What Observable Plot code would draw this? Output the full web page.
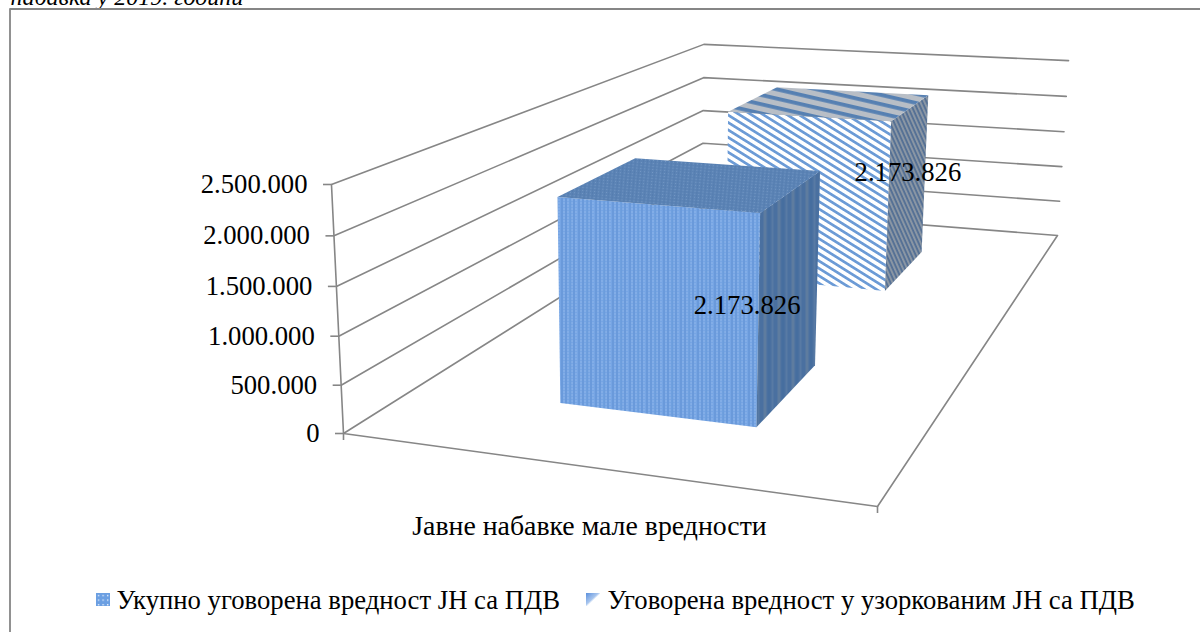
<!DOCTYPE html>
<html>
<head>
<meta charset="utf-8">
<script src="https://cdn.jsdelivr.net/npm/d3@7"></script>
<script src="https://cdn.jsdelivr.net/npm/@observablehq/plot@0.6"></script>
<style>
html,body{margin:0;padding:0;background:#fff;overflow:hidden}
svg{display:block}
</style>
</head>
<body>
<div id="chart"></div>
<script>
// ---- data ----
const caption = "набавка у 2019. години";
const categories = ["Јавне набавке мале вредности"];
const seriesNames = ["Укупно уговорена вредност ЈН са ПДВ", "Уговорена вредност у узоркованим ЈН са ПДВ"];
const seriesValues = [2173826, 2173826];
const valueLabels = ["2.173.826", "2.173.826"];
const yTicks = [0, 500000, 1000000, 1500000, 2000000, 2500000];
const yTickLabels = ["0", "500.000", "1.000.000", "1.500.000", "2.000.000", "2.500.000"];
const yMax = 2500000;

// ---- 3D camera: (u along category, w along depth, v = value / max) -> picture ----
const cam = {a:439.04,b:751.5,p:-24.6,c:343, d:18.21,e:-110.26,q:-256,f:433, g:-0.10828,h:0.55914,r:-0.038};
function P(u, w, v) {
  const n = cam.g*u + cam.h*w + cam.r*v + 1;
  return {x:(cam.a*u + cam.b*w + cam.p*v + cam.c)/n, y:(cam.d*u + cam.e*w + cam.q*v + cam.f)/n};
}
const barU = [0.305, 0.70];                 // gap width of the category band
const barW = [[0.147, 0.346], [0.65, 0.85]]; // depth band of each series
const labelAt = [[0.615, 0.247, 0.37], [0.70, 0.75, 0.53]];

const GRID = "#868686", FONT = "'Liberation Serif','Times New Roman',serif", FS = 26.7;
const poly = pts => pts.map(p => P(...p));
const line = (pts, o = {}) => Plot.line(pts, {x:"x", y:"y", stroke:GRID, strokeWidth:1.6, curve:"linear", ...o});
const face = (pts, fill) => Plot.line(poly(pts), {x:"x", y:"y", fill, stroke:"none", curve:"linear"});

// ---- walls ----
const gridMarks = yTicks.slice(1).map(t => {
  const v = t / yMax;
  return line(poly([[0,0,v],[0,1,v],[1,1,v]]));
});
const floorMark = line(poly([[0,0,0],[1,0,0],[1,1,0],[0,1,0],[0,0,0]]));
const axisMark = line(poly([[0,0,0],[0,0,1]]));
const yTickData = yTicks.map((t,i) => ({...P(0,0,t/yMax), label:yTickLabels[i]}));

// ---- bars ----
function barMarks(i, fills) {
  const v = seriesValues[i] / yMax, [u0,u1] = barU, [w0,w1] = barW[i];
  return [
    face([[u0,w0,0],[u1,w0,0],[u1,w0,v],[u0,w0,v]], fills[0]),
    face([[u1,w0,0],[u1,w1,0],[u1,w1,v],[u1,w0,v]], fills[1]),
    face([[u0,w0,v],[u1,w0,v],[u1,w1,v],[u0,w1,v]], fills[2])
  ];
}

// ---- patterns ----
const defs = () => d3.create("svg:defs").html(`
<pattern id="pf" width="17" height="3" patternUnits="userSpaceOnUse">
  <rect width="17" height="3" fill="#76a5e4"/>
  <rect x="0" width="1" height="3" fill="#5d8fd2"/><rect x="4" width="1" height="3" fill="#5d8fd2"/>
  <rect x="8" width="1.5" height="3" fill="#689ada"/><rect x="12" width="1" height="3" fill="#5d8fd2"/>
  <rect x="2" y="1" width="1" height="1" fill="#a4c4ee"/><rect x="6" y="1" width="1" height="1" fill="#a4c4ee"/>
  <rect x="10" y="1" width="1" height="1" fill="#a4c4ee"/><rect x="14" y="1" width="1" height="1" fill="#a4c4ee"/>
</pattern>
<pattern id="pft" width="4" height="3" patternUnits="userSpaceOnUse" patternTransform="rotate(5)">
  <rect width="4" height="3" fill="#5b83b5"/><rect width="1" height="1" fill="#7498c4"/><rect x="2" y="1.5" width="1" height="1" fill="#4e77aa"/>
</pattern>
<pattern id="pfs" width="14" height="4" patternUnits="userSpaceOnUse">
  <rect width="14" height="4" fill="#4a70a0"/><rect x="1" width="2" height="4" fill="#587aa4"/>
  <rect x="7" width="3" height="4" fill="#5e7c9f"/><rect x="12" width="1" height="4" fill="#436b9e"/>
</pattern>
<pattern id="pr" width="6.3" height="6.3" patternUnits="userSpaceOnUse" patternTransform="rotate(32)">
  <rect width="6.3" height="6.3" fill="#ffffff"/><rect width="6.3" height="2.7" fill="#6c9bd6"/>
</pattern>
<pattern id="prt" width="9" height="9" patternUnits="userSpaceOnUse" patternTransform="rotate(13)">
  <rect width="9" height="9" fill="#b8bec6"/><rect width="9" height="3.8" fill="#5680b2"/>
</pattern>
<pattern id="prs" width="3.8" height="3.8" patternUnits="userSpaceOnUse" patternTransform="rotate(66)">
  <rect width="3.8" height="3.8" fill="#8a96a4"/><rect width="3.8" height="1.8" fill="#536f94"/>
</pattern>
<pattern id="lg1" width="4.6" height="4.6" patternUnits="userSpaceOnUse" x="96" y="593">
  <rect width="4.6" height="4.6" fill="#6b9fe2"/><rect x="1.8" y="1.8" width="1.4" height="1.4" fill="#dfeafa"/>
</pattern>
<linearGradient id="lg2" x1="0" y1="0" x2="1" y2="1">
  <stop offset="0" stop-color="#5a8fdc"/><stop offset="0.45" stop-color="#a9c6ee"/><stop offset="0.55" stop-color="#fff"/><stop offset="1" stop-color="#fff"/>
</linearGradient>
`).node();

const textOpts = {fontFamily:FONT, fontSize:FS, fill:"#000", stroke:"none"};
const legendY = 600, legendBox = 14;
const legend = [
  {x1:96, x2:96+legendBox, fill:"url(#lg1)", tx:116, label:seriesNames[0]},
  {x1:586, x2:586+legendBox, fill:"url(#lg2)", tx:607, label:seriesNames[1]}
];

const plot = Plot.plot({
  width:1200, height:632, margin:0,
  x:{domain:[0,1200], range:[0,1200], axis:null},
  y:{domain:[0,632], range:[0,632], axis:null},
  style:{background:"#fff"},
  marks:[
    defs,
    // frame and cut-off caption line
    Plot.text([caption], {x:10, y:3, text:d=>d, textAnchor:"start", lineAnchor:"bottom", dy:1, fontFamily:FONT, fontStyle:"italic", fontSize:24, fill:"#000"}),
    Plot.line([{x:9.5,y:632},{x:9.5,y:8.5},{x:1200,y:8.5}], {x:"x", y:"y", stroke:"#868686", strokeWidth:1.8}),
    // walls, floor, axis
    ...gridMarks,
    floorMark,
    axisMark,
    Plot.ruleY(yTickData, {x1:d=>d.x-8, x2:"x", y:"y", stroke:GRID, strokeWidth:1.6}),
    Plot.ruleX([P(0,0,0),P(1,0,0)], {x:"x", y1:"y", y2:d=>d.y+7, stroke:GRID, strokeWidth:1.6}),
    Plot.text(yTickData, {x:d=>d.x-24, y:"y", text:"label", textAnchor:"end", ...textOpts}),
    // bars, back to front
    ...barMarks(1, ["url(#pr)","url(#prs)","url(#prt)"]),
    ...barMarks(0, ["url(#pf)","url(#pfs)","url(#pft)"]),
    // value labels
    Plot.text(valueLabels, {x:(d,i)=>P(...labelAt[i]).x, y:(d,i)=>P(...labelAt[i]).y, text:d=>d, ...textOpts}),
    // category label
    Plot.text(categories, {x:[589], y:[526], text:d=>d, ...textOpts, fontSize:27.8}),
    // legend
    Plot.rect(legend, {x1:"x1", x2:"x2", y1:legendY-7, y2:legendY+6, fill:"fill"}),
    Plot.text(legend, {x:"tx", y:legendY, text:"label", textAnchor:"start", ...textOpts})
  ]
});
document.getElementById("chart").append(plot);
</script>
</body>
</html>
